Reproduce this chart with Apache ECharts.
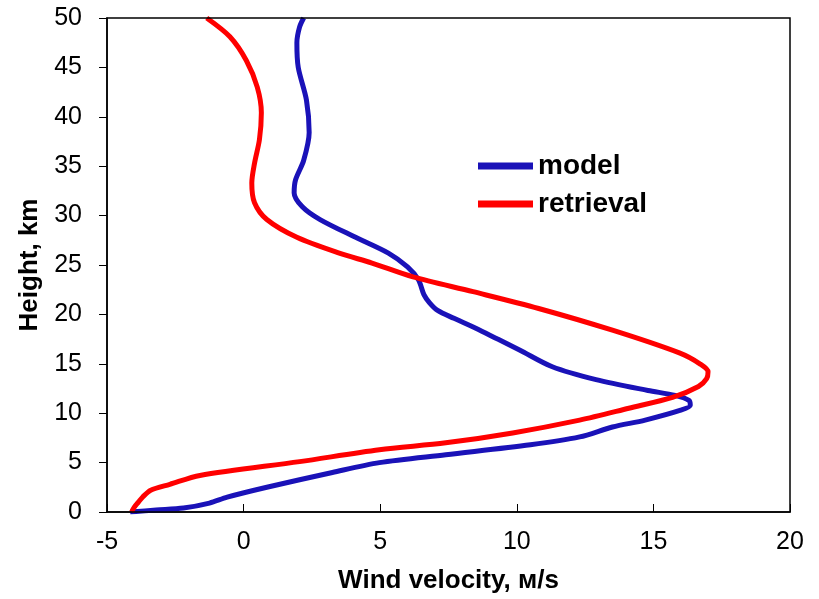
<!DOCTYPE html>
<html>
<head>
<meta charset="utf-8">
<script src="https://cdn.jsdelivr.net/npm/echarts@6/dist/echarts.min.js"></script>
<style>
  html, body { margin: 0; padding: 0; background: #fff; }
  #chart { width: 819px; height: 599px; }
</style>
</head>
<body>
<div id="chart"></div>
<script>
// height, km
const modelHeight = [0, 0.2, 0.4, 0.9, 1.5, 2.5, 4.0, 5.0, 5.8, 6.8, 7.6, 8.6, 9.3, 10.3, 10.8, 11.3, 11.8, 12.3, 13.4, 14.7, 16.4, 17.5, 18.6, 19.6, 20.4, 21.2, 22.0, 23.5, 24.8, 26.2, 27.8, 29.6, 30.9, 32.3, 33.6, 35.6, 38.4, 41.7, 45.0, 47.5, 49.1, 50];
// wind velocity, m/s
const modelWind = [-4.15, -3.2, -2.2, -1.25, -0.6, 0.85, 3.25, 4.97, 7.4, 10.5, 12.3, 13.5, 14.7, 16.0, 16.35, 16.3, 15.8, 14.8, 12.9, 11.3, 10.1, 9.3, 8.5, 7.7, 7.1, 6.8, 6.6, 6.4, 6.0, 5.3, 4.1, 2.8, 2.15, 1.85, 1.9, 2.2, 2.4, 2.3, 2.0, 1.95, 2.05, 2.2];

const retrievalHeight = [0, 0.5, 1.0, 1.5, 2.2, 2.8, 3.7, 5.1, 6.3, 7.0, 8.0, 9.3, 10.5, 11.6, 12.7, 13.5, 14.2, 15.0, 16.1, 18.4, 20.6, 22.3, 23.8, 25.2, 26.2, 27.8, 29.6, 31.3, 33.3, 35.3, 37.7, 40.4, 43.0, 45.7, 48.1, 50];
const retrievalWind = [-4.1, -4.0, -3.85, -3.7, -3.4, -2.7, -1.6, 2.05, 4.97, 7.4, 9.85, 12.3, 14.1, 15.7, 16.65, 16.95, 17.0, 16.7, 15.95, 13.5, 10.8, 8.4, 6.2, 4.7, 3.5, 1.95, 0.85, 0.4, 0.3, 0.4, 0.58, 0.65, 0.5, 0.1, -0.5, -1.35];

const xTicks = [-5, 0, 5, 10, 15, 20];
const yTicks = [0, 5, 10, 15, 20, 25, 30, 35, 40, 45, 50];

const font = 'Liberation Sans, Arial, sans-serif';
const blue = '#1a12b8';
const red = '#ff0000';

function pairs(xs, ys) {
    return xs.map((x, i) => [x, ys[i]]);
}

const chart = echarts.init(document.getElementById('chart'));
const option = {
    animation: false,
    backgroundColor: '#fff',
    grid: { left: 107, right: 29, top: 18, bottom: 87 },
    legend: {
        orient: 'vertical',
        left: 473,
        top: 147,
        icon: 'rect',
        itemWidth: 55,
        itemHeight: 7,
        itemGap: 10,
        textStyle: { fontFamily: font, fontSize: 28, fontWeight: 'bold', color: '#000' },
        data: ['model', 'retrieval']
    },
    xAxis: {
        type: 'value',
        min: xTicks[0],
        max: xTicks[xTicks.length - 1],
        interval: 5,
        name: 'Wind velocity, м/s',
        nameLocation: 'middle',
        nameGap: 56,
        nameTextStyle: { fontFamily: font, fontSize: 26, fontWeight: 'bold', color: '#000' },
        axisLine: { lineStyle: { color: '#000', width: 1.5 } },
        axisTick: { inside: true, length: 8, lineStyle: { color: '#000' } },
        axisLabel: { fontFamily: font, fontSize: 25, color: '#000', margin: 18 },
        splitLine: { show: false }
    },
    yAxis: {
        type: 'value',
        min: yTicks[0],
        max: yTicks[yTicks.length - 1],
        interval: 5,
        name: 'Height, km',
        nameLocation: 'middle',
        nameGap: 61,
        nameTextStyle: { fontFamily: font, fontSize: 26, fontWeight: 'bold', color: '#000' },
        axisLine: { show: true, onZero: false, lineStyle: { color: '#000', width: 1.5 } },
        axisTick: { show: true, inside: false, length: 8, lineStyle: { color: '#000' } },
        axisLabel: { fontFamily: font, fontSize: 25, color: '#000', margin: 25 },
        splitLine: { show: false }
    },
    series: [
        {
            name: 'model',
            type: 'line',
            smooth: 0.3,
            showSymbol: false,
            color: blue,
            lineStyle: { width: 5, color: blue },
            data: pairs(modelWind, modelHeight)
        },
        {
            name: 'retrieval',
            type: 'line',
            smooth: 0.3,
            showSymbol: false,
            color: red,
            lineStyle: { width: 5, color: red },
            data: pairs(retrievalWind, retrievalHeight)
        }
    ],
    graphic: [
        {
            type: 'rect',
            shape: { x: 107, y: 18, width: 683, height: 494 },
            style: { fill: 'none', stroke: '#000', lineWidth: 1.5 },
            silent: true,
            z: 10
        }
    ]
};
chart.setOption(option);
</script>
</body>
</html>
